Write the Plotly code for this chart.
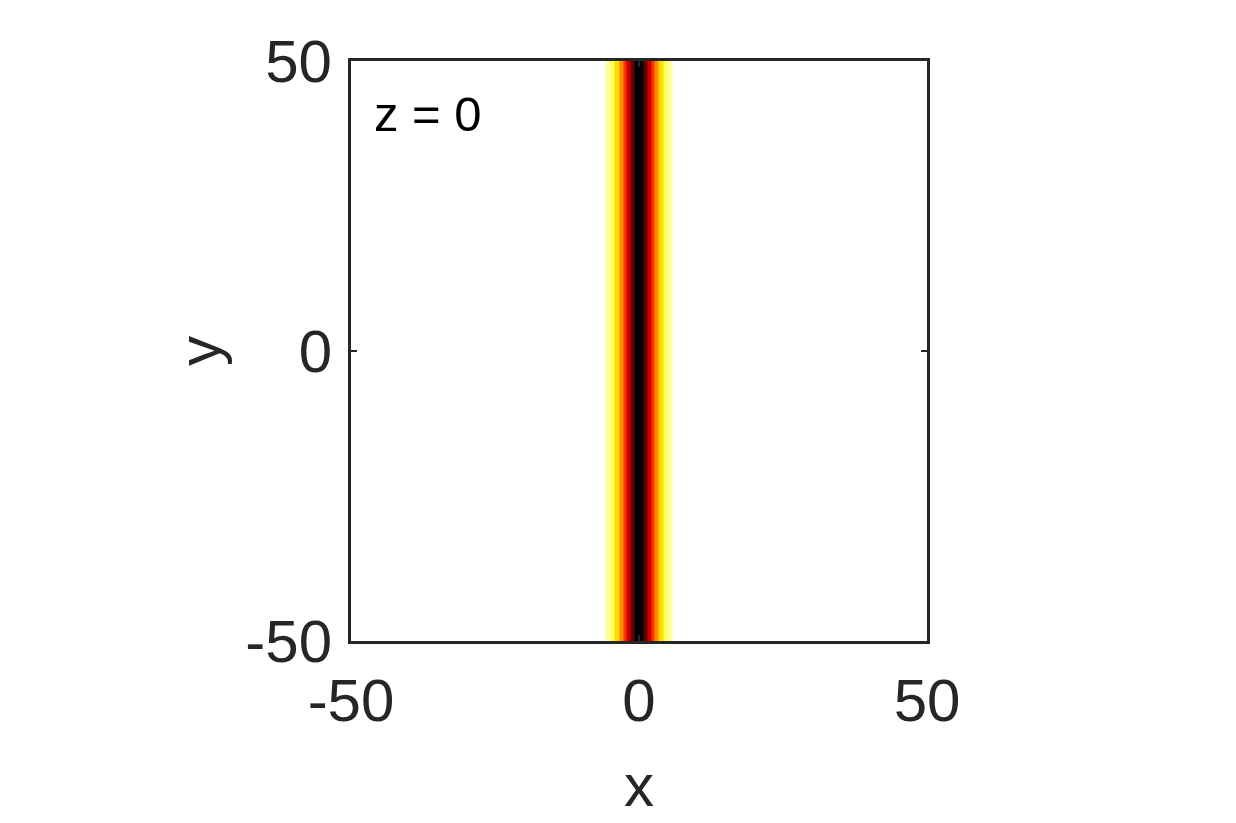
import plotly.graph_objects as go

x_edges = [-5.82, -5.03, -4.25, -3.39, -2.69, -2.17, -1.48, -0.78,
           0.78, 1.48, 2.17, 2.69, 3.39, 4.25, 5.03, 5.82]
intensity = [0.10, 0.16, 0.30, 0.42, 0.55, 0.70, 0.85, 1.0,
             0.85, 0.70, 0.55, 0.42, 0.30, 0.16, 0.10]
y_edges = [-50, 50]

tick_vals = [-50, 0, 50]
tick_text = ["-50", "0", "50"]

# reversed "hot" colormap: white -> yellow -> red -> black
hot_r = [
    [0.0, "rgb(255,255,255)"],
    [0.25, "rgb(255,255,0)"],
    [0.625, "rgb(255,0,0)"],
    [1.0, "rgb(0,0,0)"],
]

FONT = "Liberation Sans, Arial"

fig = go.Figure()

fig.add_trace(go.Heatmap(
    x=x_edges,
    y=y_edges,
    z=[intensity],
    colorscale=hot_r,
    zmin=0,
    zmax=1,
    showscale=False,
    zsmooth=False,
    hoverinfo="skip",
))

axis_style = dict(
    range=[-50, 50],
    tickvals=tick_vals,
    ticktext=tick_text,
    showline=True,
    linecolor="#262626",
    linewidth=3,
    mirror="allticks",
    ticks="inside",
    ticklen=6,
    tickwidth=2,
    tickcolor="#262626",
    showgrid=False,
    zeroline=False,
    tickfont=dict(family=FONT, size=60, color="#262626"),
)

fig.update_xaxes(**axis_style, ticklabelstandoff=5)
fig.update_yaxes(**axis_style, ticklabelstandoff=4)

fig.add_annotation(
    x=0.036, y=0.908, xref="paper", yref="paper",
    text="z = 0", showarrow=False, xanchor="left", yanchor="middle",
    font=dict(family=FONT, size=49, color="black"),
)

fig.add_annotation(
    x=0.5, y=-0.249, xref="paper", yref="paper",
    text="x", showarrow=False, xanchor="center", yanchor="middle",
    font=dict(family=FONT, size=60, color="#262626"),
)

fig.add_annotation(
    x=-0.264, y=0.5, xref="paper", yref="paper",
    text="y", showarrow=False, xanchor="center", yanchor="middle", textangle=-90,
    font=dict(family=FONT, size=60, color="#262626"),
)

fig.update_layout(
    width=1236,
    height=823,
    margin=dict(l=343, r=317, t=53, b=190),
    paper_bgcolor="white",
    plot_bgcolor="white",
    showlegend=False,
)

fig.write_html("out.html")
